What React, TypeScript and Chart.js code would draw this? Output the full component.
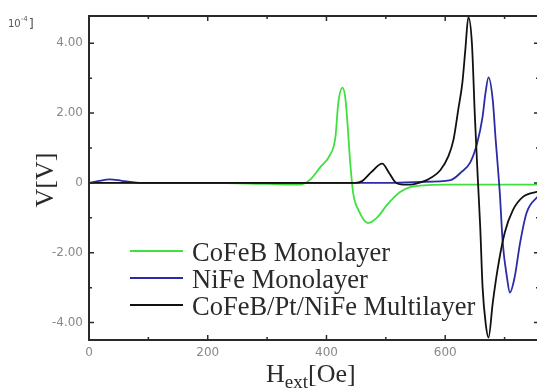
import { useEffect, useRef } from "react";
import { Chart, registerables } from "chart.js";
Chart.register(...registerables);

// ---- data (field in Oe, signal in units of 1e-4 V) ----
const cofebField = [0, 100, 200, 300, 356, 373, 390, 406, 415, 420, 427, 432, 435, 440, 445, 454, 470, 486, 502, 524, 541, 558, 600, 680, 758];
const cofebV = [0, 0, 0, -0.03, -0.05, 0.1, 0.46, 0.8, 1.3, 2.3, 2.73, 2.4, 1.8, 0.58, -0.29, -0.78, -1.15, -0.98, -0.63, -0.26, -0.12, -0.08, -0.05, -0.05, -0.05];

const nifeField = [0, 15, 35, 55, 80, 110, 300, 500, 558, 609, 626, 642, 654, 663, 668, 673, 680, 685, 690, 692, 697, 704, 709, 717, 726, 737, 758];
const nifeV = [0, 0.05, 0.1, 0.06, 0.01, 0, 0, 0, 0.03, 0.08, 0.29, 0.58, 1.15, 1.9, 2.59, 3.02, 2.39, 1.24, 0.17, -0.29, -1.73, -2.7, -3.14, -2.7, -1.73, -0.86, -0.35];

const multiField = [0, 300, 448, 460, 475, 494, 505, 516, 530, 541, 555, 570, 592, 605, 614, 622, 629, 634, 639, 645, 650, 655, 659, 663, 668, 673, 680, 688, 700, 714, 731, 758];
const multiV = [0, 0, 0, 0.05, 0.3, 0.55, 0.3, 0.02, -0.05, -0.05, 0, 0.09, 0.37, 0.75, 1.24, 2.1, 2.88, 3.83, 4.75, 4.0, 1.9, 0.1, -1.27, -3.0, -4.0, -4.43, -3.45, -2.5, -1.44, -0.78, -0.4, -0.24];

const seriesLabels = ["CoFeB Monolayer", "NiFe Monolayer", "CoFeB/Pt/NiFe Multilayer"];
const seriesColors = ["#3fe03f", "#2b2ba8", "#111111"];

const xMajorTicks = [0, 200, 400, 600];
const xMinorTicks = [100, 300, 500, 700];
const yMajorTicks = [-4, -2, 0, 2, 4];
const yMinorTicks = [-3, -1, 1, 3];

const X_MIN = 0;
const X_MAX = 758;
const Y_MIN = -4.5;
const Y_MAX = 4.78;

const toPoints = (xs: number[], ys: number[]) => xs.map((x, i) => ({ x, y: ys[i] }));

const framePlugin = {
  id: "frame",
  afterDraw(chart: any) {
    const { ctx, chartArea: a, scales } = chart;
    const xs = scales.x;
    const ys = scales.y;
    ctx.save();
    // ticks (inward)
    ctx.strokeStyle = "#2a2a2a";
    ctx.lineWidth = 1.5;
    const drawX = (vals: number[], len: number) => {
      vals.forEach((v) => {
        const px = xs.getPixelForValue(v);
        ctx.beginPath();
        ctx.moveTo(px, a.bottom);
        ctx.lineTo(px, a.bottom - len);
        ctx.moveTo(px, a.top);
        ctx.lineTo(px, a.top + len);
        ctx.stroke();
      });
    };
    const drawY = (vals: number[], len: number) => {
      vals.forEach((v) => {
        const py = ys.getPixelForValue(v);
        ctx.beginPath();
        ctx.moveTo(a.left, py);
        ctx.lineTo(a.left + len, py);
        ctx.moveTo(a.right, py);
        ctx.lineTo(a.right - len, py);
        ctx.stroke();
      });
    };
    drawX(xMajorTicks, 5);
    drawX(xMinorTicks, 3);
    drawY(yMajorTicks, 5);
    drawY(yMinorTicks, 3);
    // frame
    ctx.lineWidth = 2;
    ctx.strokeRect(a.left, a.top, a.right - a.left, a.bottom - a.top);

    // legend
    ctx.font = "26.5px 'Liberation Serif'";
    ctx.textBaseline = "alphabetic";
    ctx.textAlign = "left";
    const rows = [251, 278, 305];
    seriesLabels.forEach((lab, i) => {
      ctx.strokeStyle = seriesColors[i];
      ctx.lineWidth = 1.8;
      ctx.beginPath();
      ctx.moveTo(130, rows[i]);
      ctx.lineTo(183, rows[i]);
      ctx.stroke();
      ctx.fillStyle = "#2a2a2a";
      ctx.fillText(lab, 192, rows[i] + 10);
    });

    // x title H_ext[Oe]
    ctx.fillStyle = "#2a2a2a";
    ctx.font = "26px 'Liberation Serif'";
    ctx.fillText("H", 266, 382);
    const w = ctx.measureText("H").width;
    ctx.font = "19px 'Liberation Serif'";
    ctx.fillText("ext", 266 + w, 388);
    const w2 = ctx.measureText("ext").width;
    ctx.font = "26px 'Liberation Serif'";
    ctx.fillText("[Oe]", 266 + w + w2, 382);

    // y title V[V]
    ctx.save();
    ctx.translate(46, 180);
    ctx.rotate(-Math.PI / 2);
    ctx.textAlign = "center";
    ctx.textBaseline = "middle";
    ctx.font = "26px 'Liberation Serif'";
    ctx.fillText("V[V]", 0, 0);
    ctx.restore();

    // scale factor
    ctx.fillStyle = "#555";
    ctx.font = "10px 'DejaVu Sans'";
    ctx.textAlign = "left";
    ctx.fillText("10", 8, 27);
    const w3 = ctx.measureText("10").width;
    ctx.font = "7px 'DejaVu Sans'";
    ctx.fillText("-4", 8 + w3, 21);
    const w4 = ctx.measureText("-4").width;
    ctx.font = "13px 'DejaVu Sans'";
    ctx.fillText("]", 9 + w3 + w4, 28);
    ctx.restore();
  },
};

export default function App() {
  const ref = useRef<HTMLCanvasElement | null>(null);
  useEffect(() => {
    if (!ref.current) return;
    const chart = new Chart(ref.current, {
      type: "line",
      data: {
        datasets: [
          { label: seriesLabels[2], data: toPoints(multiField, multiV), borderColor: seriesColors[2], order: 1 },
          { label: seriesLabels[1], data: toPoints(nifeField, nifeV), borderColor: seriesColors[1], order: 2 },
          { label: seriesLabels[0], data: toPoints(cofebField, cofebV), borderColor: seriesColors[0], order: 3 },
        ].map((d) => ({
          ...d,
          borderWidth: 1.8,
          pointRadius: 0,
          fill: false,
          tension: 0.4,
          cubicInterpolationMode: "monotone" as const,
        })),
      },
      options: {
        animation: false,
        responsive: false,
        layout: { padding: { left: 0, right: 6, top: 16, bottom: 0 } },
        plugins: { legend: { display: false }, tooltip: { enabled: false } },
        scales: {
          x: {
            type: "linear",
            min: X_MIN,
            max: X_MAX,
            afterFit: (s: any) => {
              s.height = 48;
            },
            grid: { display: false, drawTicks: false },
            border: { display: false },
            ticks: {
              stepSize: 200,
              includeBounds: false,
              padding: 6,
              color: "#888",
              font: { family: "'DejaVu Sans'", size: 12 },
              maxRotation: 0,
              callback: (v: any) => String(v),
            },
          },
          y: {
            type: "linear",
            min: Y_MIN,
            max: Y_MAX,
            afterFit: (s: any) => {
              s.width = 89;
            },
            grid: { display: false, drawTicks: false },
            border: { display: false },
            ticks: {
              stepSize: 2,
              includeBounds: false,
              padding: 6,
              color: "#888",
              font: { family: "'DejaVu Sans'", size: 12 },
              callback: (v: any) => (v === 0 ? "0" : Number(v).toFixed(2)),
            },
          },
        },
      },
      plugins: [framePlugin],
    });
    return () => chart.destroy();
  }, []);
  return (
    <div style={{ position: "fixed", left: 0, top: 0, width: 537, height: 388, overflow: "hidden", background: "#fff" }}>
      <canvas ref={ref} width={545} height={388} style={{ width: 545, height: 388, display: "block" }} />
    </div>
  );
}
